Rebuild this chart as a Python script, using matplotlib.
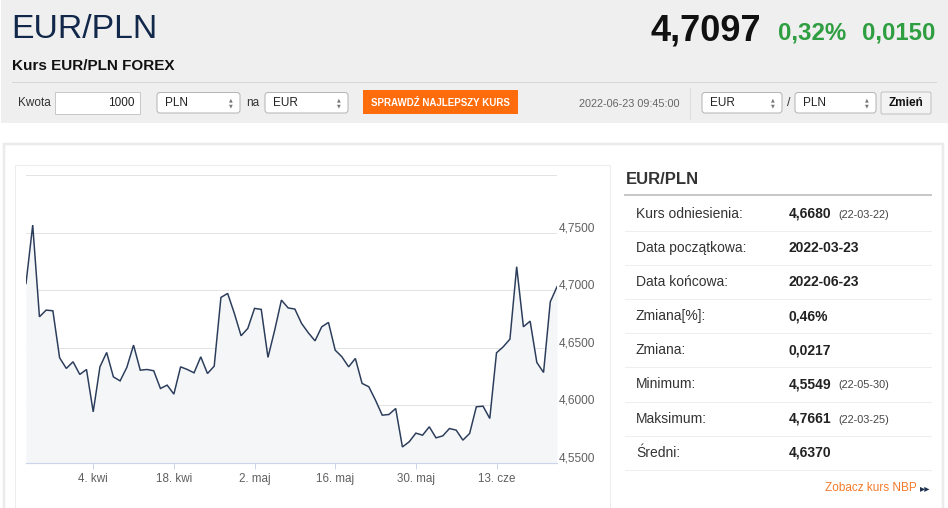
import matplotlib
matplotlib.use('Agg')
import matplotlib.pyplot as plt
from matplotlib.patches import Rectangle, FancyBboxPatch
from matplotlib.transforms import ScaledTranslation
import pandas as pd

plt.rcParams['font.family'] = ['Liberation Sans', 'DejaVu Sans']

# ---------------- data ----------------
rates = [4.7058, 4.7565, 4.6768, 4.6826, 4.6820, 4.6412, 4.6319, 4.6377, 4.6267, 4.6310,
         4.5942, 4.6333, 4.6458, 4.6246, 4.6211, 4.6328, 4.6522, 4.6304, 4.6310, 4.6299,
         4.6145, 4.6174, 4.6096, 4.6333, 4.6310, 4.6281, 4.6420, 4.6275, 4.6339, 4.6936,
         4.6971, 4.6797, 4.6603, 4.6667, 4.6841, 4.6832, 4.6415, 4.6652, 4.6913, 4.6845,
         4.6835, 4.6710, 4.6629, 4.6559, 4.6681, 4.6719, 4.6478, 4.6420, 4.6333, 4.6406,
         4.6189, 4.6160, 4.6043, 4.5913, 4.5919, 4.5971, 4.5637, 4.5681, 4.5757, 4.5739,
         4.5812, 4.5716, 4.5733, 4.5797, 4.5783, 4.5696, 4.5754, 4.5986, 4.5991, 4.5884,
         4.6455, 4.6507, 4.6574, 4.7203, 4.6681, 4.6730, 4.6371, 4.6284, 4.6898, 4.7029]
start_date = '2022-03-23'
end_date = '2022-06-23'
tick_dates = ['2022-04-04', '2022-04-18', '2022-05-02', '2022-05-16', '2022-05-30', '2022-06-13']
tick_labels = ['4. kwi', '18. kwi', '2. maj', '16. maj', '30. maj', '13. cze']
y_ticks = [4.55, 4.60, 4.65, 4.70, 4.75, 4.80]

pair = 'EUR/PLN'
last_price = '4,7097'
change_pct = '0,32%'
change_abs = '0,0150'
subtitle = 'Kurs EUR/PLN FOREX'
timestamp = '2022-06-23 09:45:00'

stat_labels = ['Kurs odniesienia:', 'Data początkowa:', 'Data końcowa:', 'Zmiana[%]:',
               'Zmiana:', 'Minimum:', 'Maksimum:', 'Średni:']
stat_values = ['4,6680', '2022-03-23', '2022-06-23', '0,46%', '0,0217', '4,5549', '4,7661', '4,6370']
stat_dates = ['(22-03-22)', '', '', '', '', '(22-05-30)', '(22-03-25)', '']

# dates on an ordinal axis (quotes on every day except Saturday)
dates = [d for d in pd.date_range(start_date, end_date, freq='D') if d.weekday() != 5]
idx = list(range(len(dates)))
tick_pos = [dates.index(pd.Timestamp(t)) for t in tick_dates]

W, H = 948, 508
fig = plt.figure(figsize=(W / 100, H / 100), dpi=100)
fig.patch.set_facecolor('white')

bg = fig.add_axes([0, 0, 1, 1])
bg.set_xlim(0, W)
bg.set_ylim(H, 0)
bg.axis('off')

def px(v):
    return v * 0.72

# header band
bg.add_patch(Rectangle((1, 0), W, 123, facecolor='#efefef', edgecolor='none'))
bg.text(11, 30, pair, fontsize=24.3, color='#12284a', va='center', ha='left', fontweight='medium')
bg.text(761, 31, last_price, fontsize=26, fontweight='bold', color='#111111', va='center', ha='right')
bg.text(846, 33, change_pct, fontsize=17.3, fontweight='bold', color='#2f9e41', va='center', ha='right')
bg.text(935, 33, change_abs, fontsize=17.3, fontweight='bold', color='#2f9e41', va='center', ha='right')
bg.text(12, 66, subtitle, fontsize=11, fontweight='bold', color='#111111', va='center', ha='left')
bg.plot([12, 936], [82, 82], color='#d6d6d6', lw=px(1))

# form row
bg.text(18, 103, 'Kwota', fontsize=8.5, color='#333333', va='center', ha='left')
bg.add_patch(Rectangle((55, 92), 85, 22, facecolor='white', edgecolor='#c8c8c8', lw=px(1)))
bg.text(135, 103, '1000', fontsize=8.5, color='#222222', va='center', ha='right')

def select(x0, x1, label):
    bg.add_patch(FancyBboxPatch((x0, 92.5), x1 - x0, 20.5, boxstyle='round,pad=0,rounding_size=3',
                                facecolor='white', edgecolor='#b5b5b5', lw=px(1)))
    bg.text(x0 + 8, 102.5, label, fontsize=8.5, color='#222222', va='center', ha='left')
    bg.text(x1 - 9, 99.5, '▲', fontsize=3.5, color='#777777', va='center', ha='center',
            family=['DejaVu Sans'])
    bg.text(x1 - 9, 105.5, '▼', fontsize=3.5, color='#777777', va='center', ha='center',
            family=['DejaVu Sans'])

select(157, 240, 'PLN')
bg.text(246, 103, 'na', fontsize=8.5, color='#333333', va='center', ha='left')
select(265, 348, 'EUR')
bg.add_patch(Rectangle((363, 90), 155, 24, facecolor='#ff6c0c', edgecolor='none'))
bg.text(440.5, 102.5, 'SPRAWDŹ NAJLEPSZY KURS', fontsize=7, fontweight='bold', color='white',
        va='center', ha='center')
bg.text(680, 104, timestamp, fontsize=7.8, color='#666666', va='center', ha='right')
bg.plot([690, 690], [88, 119], color='#dcdcdc', lw=px(1))
select(702, 782, 'EUR')
bg.text(789, 103, '/', fontsize=9, color='#333333', va='center', ha='center')
select(795, 876, 'PLN')
bg.add_patch(FancyBboxPatch((881, 92), 50, 22, boxstyle='round,pad=0,rounding_size=2',
                            facecolor='#f3f3f3', edgecolor='#c0c0c0', lw=px(1)))
bg.text(906, 103.5, 'Zmień', fontsize=8.5, fontweight='bold', color='#111111', va='center', ha='center')

# lower panel
bg.add_patch(Rectangle((3.8, 143.5), 939, 380, facecolor='white', edgecolor='#ebebeb', lw=px(2.5)))
bg.add_patch(Rectangle((15.5, 164.5), 595, 360, facecolor='white', edgecolor='#ececec', lw=px(1)))

# stats table
bg.text(626, 179, pair, fontsize=12, fontweight='bold', color='#333333', va='center', ha='left')
bg.plot([625, 931], [194.5, 194.5], color='#c8c8c8', lw=px(2))
row_y0, row_h = 213.5, 34.2
for i, (lab, val, dt) in enumerate(zip(stat_labels, stat_values, stat_dates)):
    yc = row_y0 + i * row_h
    bg.text(636, yc, lab, fontsize=10, color='#333333', va='center', ha='left')
    bg.text(788.5, yc, val, fontsize=10, fontweight='bold', color='#222222', va='center', ha='left')
    if dt:
        bg.text(838.5, yc + 1, dt, fontsize=7.8, color='#444444', va='center', ha='left')
    bg.plot([625, 931], [yc + 17, yc + 17], color='#eeeeee', lw=px(1))
bg.text(917, 488, 'Zobacz kurs NBP', fontsize=8.5, color='#f47a2a', va='center', ha='right')
bg.text(925.5, 488.5, '▸▸', fontsize=7.5, color='#1d2f4e', va='center', ha='center',
        family=['DejaVu Sans'])

# ---------------- chart ----------------
L, R, T, B = 26, 557, 175, 462.7
ax = fig.add_axes([L / W, (H - B) / H, (R - L) / W, (B - T) / H])
ax.patch.set_alpha(0)
ax.fill_between(idx, rates, y_ticks[0], color='#f5f6f8', lw=0, zorder=1)
ax.plot(idx, rates, color='#2b3d5b', lw=px(1.5), zorder=3, solid_joinstyle='miter')
ax.set_xlim(0, len(idx) - 1)
ax.set_ylim(y_ticks[0], y_ticks[-1])
ax.set_yticks(y_ticks)
ax.set_yticklabels([f'{v:.4f}'.replace('.', ',') if v < y_ticks[-1] - 1e-9 else '' for v in y_ticks])
ax.yaxis.tick_right()
ax.yaxis.grid(True, color='#e3e3e3', lw=px(1), zorder=0)
ax.set_axisbelow(True)
ax.tick_params(axis='y', length=0, pad=1.2, labelsize=8.6, labelcolor='#606060')
for lab in ax.get_yticklabels():
    lab.set_transform(lab.get_transform() + ScaledTranslation(0, 6 / 100, fig.dpi_scale_trans))
ax.set_xticks(tick_pos)
ax.set_xticklabels(tick_labels)
ax.tick_params(axis='x', length=px(6), width=px(1), color='#ccd6eb', pad=3, labelsize=8.4,
               labelcolor='#606060')
for s in ['top', 'left', 'right']:
    ax.spines[s].set_visible(False)
ax.spines['bottom'].set_color('#ccd6eb')
ax.spines['bottom'].set_linewidth(px(1.2))

fig.savefig('out.png', dpi=100, facecolor='white')
